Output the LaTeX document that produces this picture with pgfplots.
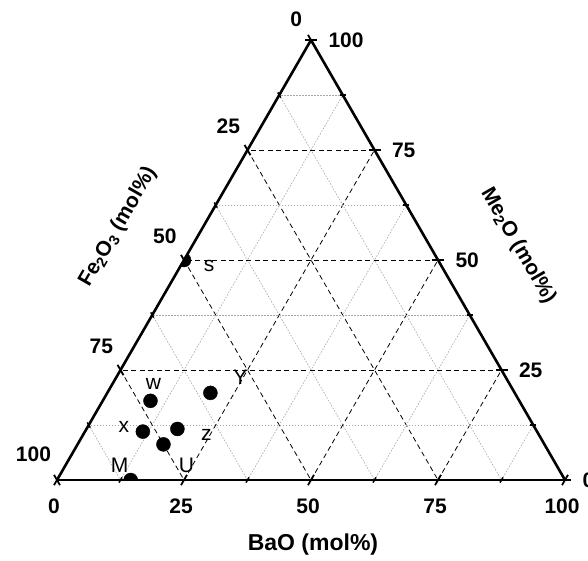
\documentclass[border=0pt]{standalone}
\usepackage{fontspec}
\setmainfont{Liberation Sans}
\usepackage{pgfplots}
\pgfplotsset{compat=1.18}
\usepgfplotslibrary{ternary}

% coordinates are (Me2O, Fe2O3, BaO) in mol%
\pgfplotstableread{
me  fe    ba
50  50    0
18  72.6  9.4
19.8 59.9 20.3
11  77.6  11.4
11.6 70.5 17.9
8.1 75    16.9
0   85.5  14.5
}\samples

\begin{document}
\begin{tikzpicture}
\newcommand\lblfont{\fontsize{21}{24}\selectfont}
\begin{ternaryaxis}[
  scale only axis,
  width=508pt,
  clip mode=individual,
  clip marker paths=true,
  xmin=0, xmax=100, ymin=0, ymax=100, zmin=0, zmax=100,
  xtick={0,25,50,75,100}, ytick={0,25,50,75,100}, ztick={0,25,50,75,100},
  minor tick num=1,
  grid=both,
  major grid style={black, dash pattern=on 5pt off 3.5pt, line width=0.8pt},
  minor grid style={gray!70, dash pattern=on 1.5pt off 1.5pt, line width=0.6pt},
  axis line style={line width=2.6pt},
  major tick style={line width=1.8pt, black},
  minor tick style={line width=1.5pt, black},
  major tick length=12pt,
  minor tick length=6pt,
  tick align=center,
  tick label style={font=\bfseries\fontsize{21}{24}\selectfont},
  xticklabel style={xshift=8pt},
  yticklabel style={yshift=9pt},
  zticklabel style={yshift=-10pt},
  /pgf/number format/assume math mode=true,
]
\addplot3[only marks, mark=*, mark size=7pt, black] table[x=me, y=fe, z=ba] {\samples};

\coordinate (BL) at (axis cs:0,100,0);
% sample labels
\node[font=\lblfont] at (axis cs:50,50,0)       [xshift=25pt, yshift=-6pt]  {s};
\node[font=\lblfont] at (axis cs:18,72.6,9.4)   [xshift=3pt,  yshift=17pt]  {w};
\node[font=\lblfont] at (axis cs:19.8,59.9,20.3)[xshift=30pt, yshift=16pt]  {Y};
\node[font=\lblfont] at (axis cs:11,77.6,11.4)  [xshift=-19pt,yshift=5pt]   {x};
\node[font=\lblfont] at (axis cs:11.6,70.5,17.9)[xshift=29pt, yshift=-6pt]  {z};
\node[font=\lblfont] at (axis cs:8.1,75,16.9)   [xshift=23pt, yshift=-21pt] {U};
\node[font=\lblfont] at (axis cs:0,85.5,14.5)   [xshift=-11pt,yshift=15pt]  {M};
% axis titles
\node[font=\bfseries\fontsize{23}{26}\selectfont] at (axis cs:0,50,50) [yshift=-65pt, xshift=2pt] {BaO (mol\%)};
\node[font=\bfseries\lblfont] at (axis cs:50,0,50) [xshift=80pt, yshift=14pt, rotate=-60]
  {Me\textsubscript{2}O (mol\%)};
\node[font=\bfseries\lblfont] at (axis cs:50,50,0) [xshift=-66pt, yshift=33pt, rotate=60]
  {Fe\textsubscript{2}O\textsubscript{3} (mol\%)};
\end{ternaryaxis}
% page frame: the last tick label runs past the right edge
\pgfresetboundingbox
\path (BL) ++(-57pt,-81pt) rectangle ++(588pt,561pt);
\end{tikzpicture}
\end{document}
